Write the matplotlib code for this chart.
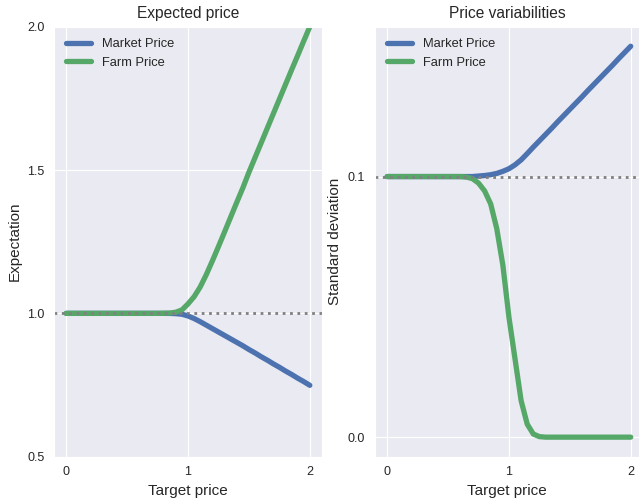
import matplotlib
matplotlib.use("Agg")
import matplotlib.pyplot as plt
import seaborn as sns

# target price grid (step 0.05)
target = [round(i * 0.05, 2) for i in range(41)]

market_mean = [1.0] * 17 + [
    0.9998, 0.999, 0.997, 0.991, 0.982, 0.971, 0.959, 0.947, 0.935,
    0.923, 0.911, 0.899, 0.887, 0.874, 0.862, 0.849, 0.837, 0.824,
    0.812, 0.799, 0.787, 0.774, 0.762, 0.749]
farm_mean = [1.0] * 16 + [
    1.0003, 1.001, 1.004, 1.012, 1.033, 1.058, 1.092, 1.135, 1.183,
    1.233, 1.284, 1.3355, 1.387, 1.4375, 1.492, 1.543, 1.594, 1.645,
    1.696, 1.747, 1.798, 1.849, 1.899, 1.95, 2.0]

market_std = [0.1] * 15 + [
    0.1002, 0.1004, 0.1007, 0.1012, 0.1020, 0.1030, 0.1045,
    0.1064, 0.1088, 0.1113, 0.1137, 0.1161, 0.1185, 0.1210, 0.1234,
    0.1258, 0.1282, 0.1306, 0.1331, 0.1355, 0.1379, 0.1403, 0.1427,
    0.1452, 0.1476, 0.1500]
farm_std = [0.1] * 13 + [
    0.0998, 0.0992, 0.0975, 0.0945, 0.0895, 0.080, 0.066, 0.046, 0.030,
    0.014, 0.005, 0.0012, 0.0002] + [0.0] * 15

sns.set_style("darkgrid")
plt.rcParams["font.family"] = ["Liberation Sans", "DejaVu Sans"]

blue = "#4C72B0"
green = "#55A868"
lw = 3.8

fig = plt.figure(figsize=(6.39, 4.98), dpi=100)
ax1 = fig.add_axes([54 / 639, 41.3 / 498, 268 / 639, 430 / 498])
ax2 = fig.add_axes([375 / 639, 41.3 / 498, 264 / 639, 430 / 498])

# Expected price
ax1.plot(target, market_mean, color=blue, lw=lw, label="Market Price", solid_capstyle="round")
ax1.plot(target, farm_mean, color=green, lw=lw, label="Farm Price", solid_capstyle="round")
ax1.axhline(1.0, color="gray", ls=":", lw=2)
ax1.set_xlim(-0.1, 2.1)
ax1.set_ylim(0.5, 2.0)
ax1.set_xticks([0, 1, 2])
ax1.set_yticks([0.5, 1.0, 1.5, 2.0])
ax1.set_yticklabels(["0.5", "1.0", "1.5", "2.0"])
ax1.set_title("Expected price", fontsize=11.2)
ax1.set_xlabel("Target price", fontsize=11)
ax1.set_ylabel("Expectation", fontsize=11)
ax1.legend(loc="upper left", fontsize=9.3, frameon=False)

# Price variabilities
ax2.plot(target, market_std, color=blue, lw=lw, label="Market Price", solid_capstyle="round")
ax2.plot(target, farm_std, color=green, lw=lw, label="Farm Price", solid_capstyle="round")
ax2.axhline(0.1, color="gray", ls=":", lw=2)
ax2.set_xlim(-0.1, 2.068)
ax2.set_ylim(-0.0075, 0.1575)
ax2.set_xticks([0, 1, 2])
ax2.set_yticks([0.0, 0.1])
ax2.set_yticklabels(["0.0", "0.1"])
ax2.set_title("Price variabilities", fontsize=11.2)
ax2.set_xlabel("Target price", fontsize=11)
ax2.set_ylabel("Standard deviation", fontsize=11)
ax2.legend(loc="upper left", fontsize=9.3, frameon=False)

for ax in (ax1, ax2):
    ax.tick_params(labelsize=9)

fig.savefig("out.png", dpi=100)
